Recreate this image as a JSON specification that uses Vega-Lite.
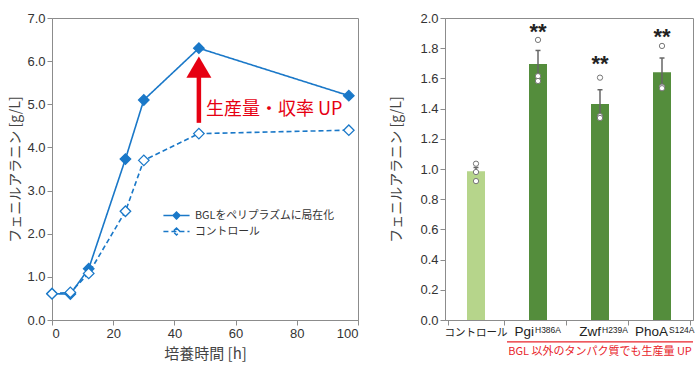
{
  "$schema": "https://vega.github.io/schema/vega-lite/v6.json",
  "padding": {"left": 8, "top": 11, "right": 2, "bottom": 2},
  "spacing": 30,
  "config": {
    "font": "Liberation Sans, Noto Sans CJK JP",
    "view": {"stroke": "#8c8c8c"},
    "axis": {
      "grid": false,
      "domainColor": "#8c8c8c",
      "tickColor": "#8c8c8c",
      "labelColor": "#333333",
      "labelFontSize": 13,
      "labelFont": "Liberation Sans",
      "titleFontSize": 14,
      "titleFontWeight": "normal",
      "titleColor": "#444444",
      "titleFont": "Noto Sans CJK JP",
      "labelPadding": 2,
      "labelOverlap": false,
      "tickSize": 5
    }
  },
  "datasets": {
    "growth": [
      {"t": 0, "v": 0.61, "s": "BGLをペリプラズムに局在化"},
      {"t": 6, "v": 0.6, "s": "BGLをペリプラズムに局在化"},
      {"t": 12, "v": 1.19, "s": "BGLをペリプラズムに局在化"},
      {"t": 24, "v": 3.73, "s": "BGLをペリプラズムに局在化"},
      {"t": 30, "v": 5.1, "s": "BGLをペリプラズムに局在化"},
      {"t": 48, "v": 6.3, "s": "BGLをペリプラズムに局在化"},
      {"t": 97, "v": 5.2, "s": "BGLをペリプラズムに局在化"},
      {"t": 0, "v": 0.61, "s": "コントロール"},
      {"t": 6, "v": 0.64, "s": "コントロール"},
      {"t": 12, "v": 1.08, "s": "コントロール"},
      {"t": 24, "v": 2.52, "s": "コントロール"},
      {"t": 30, "v": 3.7, "s": "コントロール"},
      {"t": 48, "v": 4.32, "s": "コントロール"},
      {"t": 97, "v": 4.4, "s": "コントロール"}
    ],
    "bars": [
      {"cat": "コントロール", "mean": 0.985, "lo": 0.96, "hi": 1.01, "grp": "control"},
      {"cat": "Pgi", "mean": 1.695, "lo": 1.61, "hi": 1.785, "grp": "mutant"},
      {"cat": "Zwf", "mean": 1.43, "lo": 1.34, "hi": 1.525, "grp": "mutant"},
      {"cat": "PhoA", "mean": 1.64, "lo": 1.55, "hi": 1.735, "grp": "mutant"}
    ],
    "pts": [
      {"cat": "コントロール", "v": 1.035},
      {"cat": "コントロール", "v": 0.98},
      {"cat": "コントロール", "v": 0.92},
      {"cat": "Pgi", "v": 1.855},
      {"cat": "Pgi", "v": 1.615},
      {"cat": "Pgi", "v": 1.583},
      {"cat": "Zwf", "v": 1.605},
      {"cat": "Zwf", "v": 1.35},
      {"cat": "Zwf", "v": 1.338},
      {"cat": "PhoA", "v": 1.815},
      {"cat": "PhoA", "v": 1.545},
      {"cat": "PhoA", "v": 1.535}
    ],
    "stars": [
      {"cat": "Pgi", "y": 1.86},
      {"cat": "Zwf", "y": 1.65},
      {"cat": "PhoA", "y": 1.83}
    ],
    "labels": [
      {"cat": "コントロール", "main": "コントロール", "sup": ""},
      {"cat": "Pgi", "main": "Pgi", "sup": "H386A"},
      {"cat": "Zwf", "main": "Zwf", "sup": "H239A"},
      {"cat": "PhoA", "main": "PhoA", "sup": "S124A"}
    ]
  },
  "hconcat": [
    {
      "width": 306,
      "height": 302,
      "encoding": {
        "x": {
          "type": "quantitative",
          "scale": {"domain": [0, 100]},
          "axis": {"values": [0, 20, 40, 60, 80, 100], "title": "培養時間 [h]", "titleFontSize": 15, "titlePadding": 6}
        },
        "y": {
          "type": "quantitative",
          "scale": {"domain": [0, 7]},
          "axis": {"values": [0, 1, 2, 3, 4, 5, 6, 7], "format": ".1f", "title": "フェニルアラニン [g/L]", "titlePadding": 4}
        }
      },
      "layer": [
        {
          "data": {"name": "growth"},
          "transform": [{"filter": "datum.t < 0"}],
          "mark": {"type": "point", "filled": true, "stroke": "#1a78c8", "strokeWidth": 1.5, "opacity": 1},
          "encoding": {
            "x": {"field": "t"},
            "y": {"field": "v"},
            "fill": {
              "field": "s", "type": "nominal",
              "scale": {"domain": ["BGLをペリプラズムに局在化", "コントロール"], "range": ["#1a78c8", "#ffffff"]},
              "legend": {"title": null, "orient": "none", "legendX": 119, "legendY": 192, "symbolType": "M-3,0H3M0,-0.8L0.8,0L0,0.8L-0.8,0Z", "symbolSize": 76, "symbolStrokeColor": "#1a78c8", "symbolStrokeWidth": 1.5, "labelFontSize": 10.8, "labelColor": "#333333", "labelFont": "Noto Sans CJK JP", "labelOffset": 13, "rowPadding": 3, "padding": 0}
            },
            "strokeDash": {
              "field": "s", "type": "nominal",
              "scale": {"domain": ["BGLをペリプラズムに局在化", "コントロール"], "range": [[1, 0], [5, 3]]},
              "legend": {"title": null, "orient": "none", "legendX": 119, "legendY": 192, "symbolType": "M-3,0H3M0,-0.8L0.8,0L0,0.8L-0.8,0Z", "symbolSize": 76, "symbolStrokeColor": "#1a78c8", "symbolStrokeWidth": 1.5, "labelFontSize": 10.8, "labelColor": "#333333", "labelFont": "Noto Sans CJK JP", "labelOffset": 13, "rowPadding": 3, "padding": 0}
            }
          }
        },
        {
          "data": {"name": "growth"},
          "mark": {"type": "line", "color": "#1a78c8", "strokeWidth": 1.6},
          "encoding": {
            "x": {"field": "t"},
            "y": {"field": "v"},
            "strokeDash": {
              "field": "s", "type": "nominal",
              "scale": {"domain": ["BGLをペリプラズムに局在化", "コントロール"], "range": [[1, 0], [5, 3]]},
              "legend": {"title": null, "orient": "none", "legendX": 119, "legendY": 192, "symbolType": "M-3,0H3M0,-0.8L0.8,0L0,0.8L-0.8,0Z", "symbolSize": 76, "symbolStrokeColor": "#1a78c8", "symbolStrokeWidth": 1.5, "labelFontSize": 10.8, "labelColor": "#333333", "labelFont": "Noto Sans CJK JP", "labelOffset": 13, "rowPadding": 3, "padding": 0}
            }
          }
        },
        {
          "data": {"name": "growth"},
          "mark": {"type": "point", "shape": "diamond", "filled": true, "size": 110, "stroke": "#1a78c8", "strokeWidth": 1.3, "opacity": 1},
          "encoding": {
            "x": {"field": "t"},
            "y": {"field": "v"},
            "fill": {
              "field": "s", "type": "nominal",
              "scale": {"domain": ["BGLをペリプラズムに局在化", "コントロール"], "range": ["#1a78c8", "#ffffff"]},
              "legend": {"title": null, "orient": "none", "legendX": 119, "legendY": 192, "symbolType": "M-3,0H3M0,-0.8L0.8,0L0,0.8L-0.8,0Z", "symbolSize": 76, "symbolStrokeColor": "#1a78c8", "symbolStrokeWidth": 1.5, "labelFontSize": 10.8, "labelColor": "#333333", "labelFont": "Noto Sans CJK JP", "labelOffset": 13, "rowPadding": 3, "padding": 0}
            }
          }
        },
        {
          "data": {"values": [{}]},
          "mark": {"type": "rule", "color": "#e60012", "strokeWidth": 4.5},
          "encoding": {
            "x": {"datum": 48},
            "y": {"datum": 4.57},
            "y2": {"datum": 5.65}
          }
        },
        {
          "data": {"values": [{}]},
          "mark": {"type": "point", "shape": "M-1,0.85L0,-0.85L1,0.85Z", "filled": true, "color": "#e60012", "size": 625, "opacity": 1},
          "encoding": {
            "x": {"datum": 48},
            "y": {"datum": 5.86}
          }
        },
        {
          "data": {"values": [{}]},
          "mark": {"type": "text", "text": "生産量・収率 UP", "align": "left", "baseline": "middle", "fontSize": 18, "color": "#e60012", "font": "Noto Sans CJK JP"},
          "encoding": {
            "x": {"datum": 50.3},
            "y": {"datum": 4.87}
          }
        }
      ]
    },
    {
      "width": 248,
      "height": 302,
      "resolve": {"scale": {"x": "independent"}},
      "layer": [
        {
          "encoding": {
            "x": {"field": "cat", "type": "nominal", "sort": null, "scale": {"domain": ["コントロール", "Pgi", "Zwf", "PhoA"], "paddingInner": 0.1, "paddingOuter": 0.05}, "axis": {"title": null, "labels": false, "tickBand": "extent"}},
            "y": {
              "type": "quantitative",
              "scale": {"domain": [0, 2]},
              "axis": {"values": [0, 0.2, 0.4, 0.6, 0.8, 1.0, 1.2, 1.4, 1.6, 1.8, 2.0], "format": ".1f", "title": "フェニルアラニン [g/L]", "titlePadding": 16}
            }
          },
          "layer": [
            {
              "data": {"name": "bars"},
              "mark": {"type": "bar", "size": 18},
              "encoding": {
                "y": {"field": "mean"},
                "color": {
                  "field": "grp", "type": "nominal",
                  "scale": {"domain": ["control", "mutant"], "range": ["#b6d58b", "#548d3c"]},
                  "legend": null
                }
              }
            },
            {
              "data": {"name": "bars"},
              "mark": {"type": "rule", "color": "#666666", "strokeWidth": 1.5},
              "encoding": {
                "y": {"field": "lo"},
                "y2": {"field": "hi"}
              }
            },
            {
              "data": {"name": "bars"},
              "mark": {"type": "tick", "color": "#666666", "size": 5, "thickness": 1.5, "opacity": 1},
              "encoding": {
                "y": {"field": "hi"}
              }
            },
            {
              "data": {"name": "pts"},
              "mark": {"type": "point", "filled": true, "fill": "#ffffff", "stroke": "#777777", "strokeWidth": 1, "size": 28, "opacity": 1},
              "encoding": {
                "y": {"field": "v"}
              }
            },
            {
              "data": {"name": "stars"},
              "mark": {"type": "text", "text": "**", "fontSize": 22, "fontWeight": "bold", "baseline": "alphabetic", "color": "#222222", "font": "Liberation Sans"},
              "encoding": {
                "y": {"field": "y"}
              }
            },
            {
              "data": {"name": "labels"},
              "transform": [{"filter": "datum.cat == 'コントロール'"}],
              "mark": {"type": "text", "align": "center", "baseline": "alphabetic", "fontSize": 10.5, "dy": 16, "color": "#222222", "font": "Noto Sans CJK JP"},
              "encoding": {"y": {"datum": 0}, "text": {"field": "main"}}
            },
            {
              "data": {"name": "labels"},
              "transform": [{"filter": "datum.cat == 'Pgi'"}],
              "layer": [
                {"mark": {"type": "text", "align": "right", "baseline": "alphabetic", "fontSize": 13.5, "dx": -4, "dy": 16, "color": "#222222", "font": "Liberation Sans"}, "encoding": {"y": {"datum": 0}, "text": {"field": "main"}}},
                {"mark": {"type": "text", "align": "left", "baseline": "alphabetic", "fontSize": 8.5, "dx": -3, "dy": 13, "color": "#222222", "font": "Liberation Sans"}, "encoding": {"y": {"datum": 0}, "text": {"field": "sup"}}}
              ]
            },
            {
              "data": {"name": "labels"},
              "transform": [{"filter": "datum.cat == 'Zwf'"}],
              "layer": [
                {"mark": {"type": "text", "align": "right", "baseline": "alphabetic", "fontSize": 13.5, "dx": 1, "dy": 16, "color": "#222222", "font": "Liberation Sans"}, "encoding": {"y": {"datum": 0}, "text": {"field": "main"}}},
                {"mark": {"type": "text", "align": "left", "baseline": "alphabetic", "fontSize": 8.5, "dx": 2, "dy": 13, "color": "#222222", "font": "Liberation Sans"}, "encoding": {"y": {"datum": 0}, "text": {"field": "sup"}}}
              ]
            },
            {
              "data": {"name": "labels"},
              "transform": [{"filter": "datum.cat == 'PhoA'"}],
              "layer": [
                {"mark": {"type": "text", "align": "right", "baseline": "alphabetic", "fontSize": 13.5, "dx": 6, "dy": 16, "color": "#222222", "font": "Liberation Sans"}, "encoding": {"y": {"datum": 0}, "text": {"field": "main"}}},
                {"mark": {"type": "text", "align": "left", "baseline": "alphabetic", "fontSize": 8.5, "dx": 7, "dy": 13, "color": "#222222", "font": "Liberation Sans"}, "encoding": {"y": {"datum": 0}, "text": {"field": "sup"}}}
              ]
            }
          ]
        },
        {
          "data": {"values": [{}]},
          "encoding": {
            "x": {"type": "quantitative", "scale": {"domain": [0, 4]}, "axis": {"orient": "top", "labels": false, "ticks": false, "domain": false, "title": null}},
            "y": {
              "type": "quantitative",
              "scale": {"domain": [0, 2]},
              "axis": {"values": [0, 0.2, 0.4, 0.6, 0.8, 1.0, 1.2, 1.4, 1.6, 1.8, 2.0], "format": ".1f", "title": "フェニルアラニン [g/L]", "titlePadding": 16}
            }
          },
          "layer": [
            {
              "mark": {"type": "rule", "color": "#e8232a", "strokeWidth": 1.2},
              "encoding": {
                "x": {"datum": 1},
                "x2": {"datum": 4},
                "y": {"datum": -0.145}
              }
            },
            {
              "mark": {"type": "text", "text": "BGL 以外のタンパク質でも生産量 UP", "color": "#e8232a", "fontSize": 11, "font": "Noto Sans CJK JP", "baseline": "middle", "align": "center"},
              "encoding": {
                "x": {"datum": 2.5},
                "y": {"datum": -0.215}
              }
            }
          ]
        }
      ]
    }
  ]
}
